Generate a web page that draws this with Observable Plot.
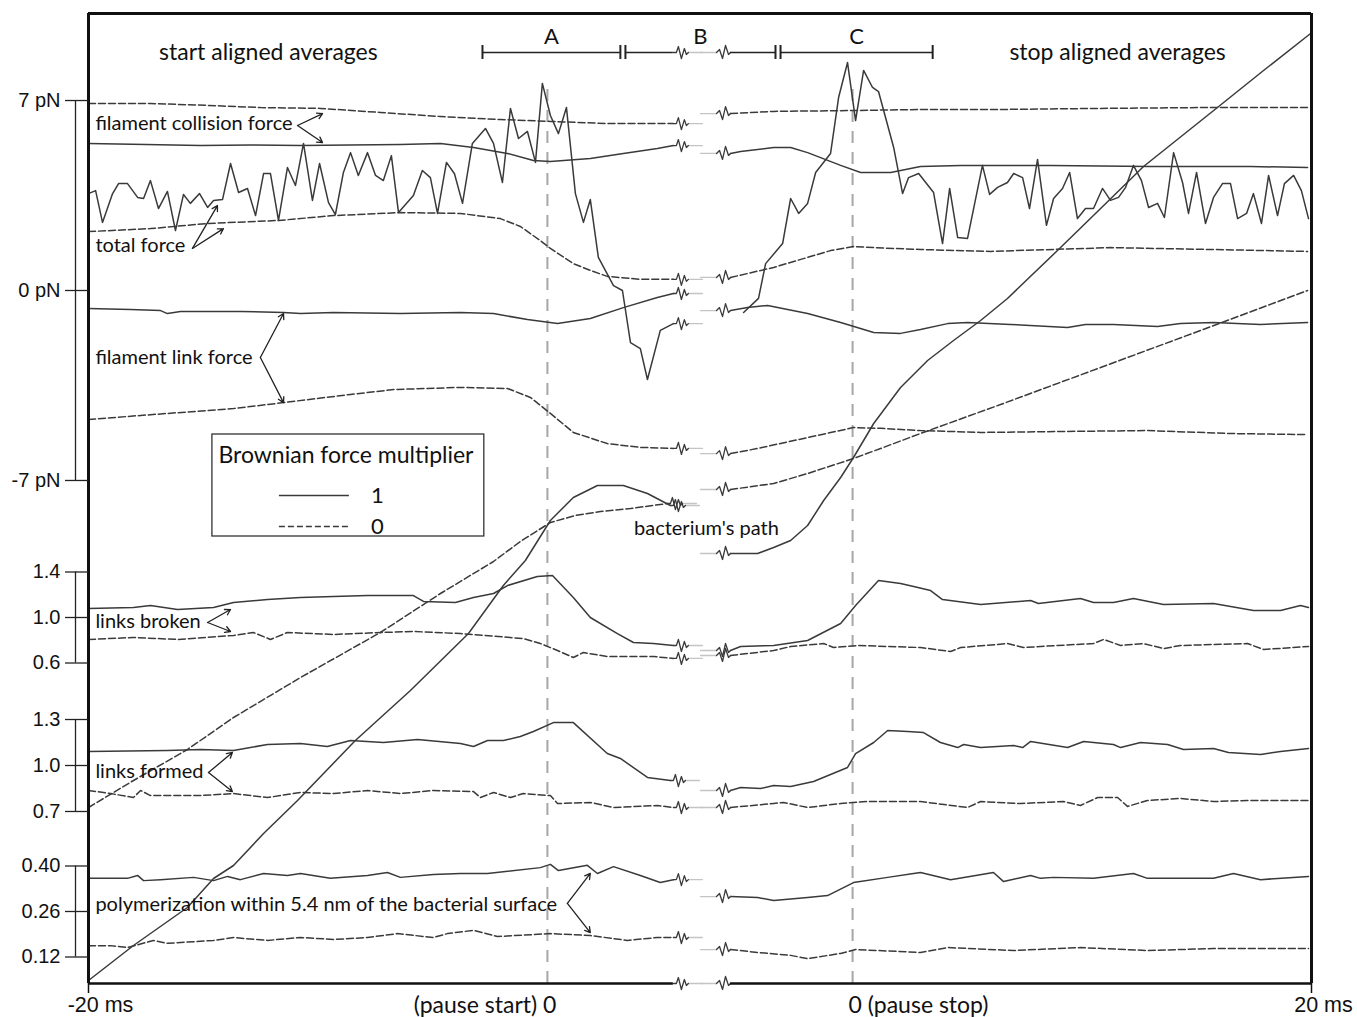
<!DOCTYPE html>
<html><head><meta charset="utf-8">
<script src="https://cdn.jsdelivr.net/npm/d3@7"></script>
<script src="https://cdn.jsdelivr.net/npm/@observablehq/plot@0.6"></script>
<style>
html,body{margin:0;padding:0;background:#fff;}
#chart svg{display:block;}
</style></head>
<body><div id="chart"></div>
<script>
// ---------------- DATA (time in ms, values in the panel's own units) ----------------
// filament collision force (pN)
const collision1Start = [[-20,5.42],[-17.5,5.38],[-15.12,5.34],[-12.9,5.36],[-10.76,5.34],[-8.6,5.36],[-6.41,5.38],[-4.66,5.42],[-3.22,5.27],[-1.74,5.05],[-0.61,4.79],[0.13,4.75],[1.87,4.86],[3.31,5.05],[4.79,5.23],[5.49,5.34]];
const collision1Stop  = [[-5.32,5.05],[-4.88,5.12],[-3.44,5.27],[-2.70,5.27],[-1.96,5.08],[-0.52,4.61],[0.35,4.35],[1.66,4.35],[2.96,4.57],[4.71,4.61],[8.63,4.61],[12.98,4.57],[17.34,4.57],[19.83,4.53]];
const collision0Start = [[-20,6.89],[-17.3,6.89],[-14.81,6.82],[-12.5,6.74],[-9.89,6.71],[-7.28,6.56],[-4.66,6.41],[-2.05,6.30],[0.13,6.23],[2.75,6.15],[5.49,6.15]];
const collision0Stop  = [[-5.32,6.52],[-3.44,6.60],[-0.09,6.63],[2.96,6.67],[6.45,6.67],[10.81,6.71],[15.16,6.74],[19.83,6.74]];
// total force (pN)
const total1Start = [[-20,3.57],[-19.69,3.68],[-19.39,2.51],[-18.95,3.57],[-18.69,3.94],[-18.30,3.94],[-17.86,3.43],[-17.60,3.39],[-17.30,4.05],[-16.95,3.02],[-16.56,3.65],[-16.21,2.21],[-15.86,3.54],[-15.56,3.21],[-15.16,3.57],[-14.81,3.06],[-14.55,3.32],[-14.16,3.35],[-13.81,4.68],[-13.46,3.61],[-13.07,3.76],[-12.72,2.76],[-12.37,4.31],[-12.07,4.31],[-11.72,2.58],[-11.33,4.53],[-10.98,3.87],[-10.63,5.42],[-10.24,3.32],[-9.93,4.68],[-9.54,3.24],[-9.24,2.80],[-8.89,4.35],[-8.58,5.08],[-8.24,4.24],[-7.84,5.08],[-7.49,4.24],[-7.15,4.05],[-6.80,4.97],[-6.49,2.87],[-5.84,3.50],[-5.45,4.42],[-5.10,4.16],[-4.79,2.84],[-4.40,4.72],[-4.05,4.30],[-3.70,3.21],[-3.27,5.42],[-2.70,5.97],[-2.35,5.42],[-1.96,3.98],[-1.61,6.71],[-1.26,5.60],[-0.87,5.86],[-0.52,4.72],[-0.22,7.63],[0.13,6.45],[0.48,5.78],[0.83,6.74],[1.22,3.57],[1.57,2.51],[1.87,3.35],[2.22,1.22],[2.88,0.18],[3.27,0.00],[3.62,-1.92],[4.05,-2.14],[4.36,-3.28],[4.92,-1.47],[5.49,-1.22]];
const total1Stop = [[-4.75,-0.81],[-4.10,-0.29],[-3.79,0.99],[-3.05,1.73],[-2.70,3.39],[-2.35,2.84],[-1.96,3.21],[-1.61,4.35],[-0.96,5.05],[-0.61,7.11],[-0.22,8.40],[0.13,6.26],[0.48,8.11],[0.87,7.48],[1.13,7.33],[1.79,5.27],[2.18,3.57],[2.44,4.16],[2.88,4.31],[3.53,3.61],[3.92,1.73],[4.23,3.76],[4.58,1.95],[5.01,1.92],[5.66,4.61],[5.97,3.54],[6.32,3.80],[6.75,3.98],[7.02,4.31],[7.41,4.16],[7.71,3.02],[8.06,4.83],[8.45,2.40],[8.76,3.39],[9.15,3.76],[9.46,4.35],[9.80,2.65],[10.15,3.02],[10.50,3.02],[10.89,3.76],[11.24,3.32],[11.59,3.43],[11.90,3.80],[12.24,4.61],[12.59,4.05],[12.90,3.06],[13.29,3.21],[13.59,2.69],[13.99,5.08],[14.38,3.98],[14.64,2.84],[14.99,4.35],[15.38,2.47],[15.73,3.43],[16.12,3.94],[16.47,3.94],[16.78,2.65],[17.17,2.84],[17.47,3.57],[17.82,2.47],[18.13,4.24],[18.52,2.76],[18.82,3.94],[19.22,4.24],[19.56,3.68],[19.87,2.65]];
const total0Start = [[-20,2.17],[-17.30,2.28],[-14.81,2.47],[-11.72,2.58],[-9.32,2.76],[-6.41,2.87],[-3.79,2.84],[-2.05,2.65],[-1.18,2.36],[-0.31,1.84],[0.13,1.55],[1.13,0.99],[1.87,0.74],[2.61,0.52],[4.05,0.41],[5.49,0.41]];
const total0Stop  = [[-5.32,0.48],[-3.44,0.85],[-1.96,1.22],[-0.96,1.47],[0.04,1.62],[0.92,1.58],[2.96,1.51],[6.01,1.44],[11.24,1.58],[15.73,1.51],[19.83,1.44]];
// filament link force (pN)
const link1Start = [[-20,-0.66],[-18.17,-0.70],[-16.86,-0.74],[-16.56,-0.85],[-15.99,-0.77],[-13.38,-0.77],[-11.50,-0.81],[-10.76,-0.85],[-9.32,-0.81],[-6.41,-0.85],[-3.79,-0.81],[-2.35,-0.85],[-0.87,-1.07],[0.44,-1.22],[1.87,-1.03],[3.31,-0.63],[4.79,-0.26],[5.49,-0.11]];
const link1Stop  = [[-5.32,-0.74],[-4.58,-0.63],[-3.70,-0.55],[-1.96,-0.85],[-0.52,-1.18],[0.92,-1.55],[2.09,-1.58],[2.96,-1.44],[4.14,-1.22],[5.01,-1.18],[6.88,-1.25],[9.37,-1.36],[10.15,-1.25],[11.37,-1.25],[13.29,-1.33],[14.29,-1.22],[15.73,-1.18],[17.78,-1.25],[19.83,-1.18]];
const link0Start = [[-20,-4.75],[-16.56,-4.53],[-13.68,-4.35],[-11.50,-4.13],[-8.58,-3.83],[-6.71,-3.65],[-3.79,-3.57],[-1.74,-3.61],[-0.74,-3.94],[0.13,-4.53],[1.13,-5.23],[2.61,-5.64],[4.05,-5.78],[5.49,-5.82]];
const link0Stop  = [[-5.32,-6.01],[-4.14,-5.82],[-1.96,-5.42],[0.04,-5.05],[1.22,-5.08],[2.96,-5.16],[5.58,-5.23],[12.85,-5.16],[16.47,-5.27],[19.83,-5.31]];
// bacterium's path (relative displacement, arbitrary units)
const path1Start = [[-20,0.3],[-18.04,3.8],[-15.69,7.6],[-14.55,10.5],[-13.68,11.8],[-12.37,15.0],[-10.89,18.3],[-8.37,24.3],[-5.97,29.3],[-3.44,35.0],[-1.92,39.8],[-0.96,42.3],[0.13,46.3],[1.13,48.6],[2.18,49.8],[3.31,49.8],[4.36,49.0],[5.36,47.8]];
const path1Stop  = [[-5.32,43.0],[-4.14,43.0],[-3.44,43.6],[-2.70,44.3],[-1.96,45.8],[-1.26,48.3],[-0.52,50.6],[0.04,52.6],[0.92,56.0],[2.09,59.6],[3.27,62.3],[4.40,64.3],[5.58,66.3],[6.75,68.5],[8.93,73.3],[10.81,77.5],[12.68,81.7],[15.90,87.6],[17.91,91.3],[19.96,95.0]];
const path0Start = [[-20,17.6],[-18.04,20.3],[-15.69,23.4],[-13.68,26.6],[-10.76,30.6],[-7.28,35.1],[-4.66,39.0],[-2.35,42.2],[-1.18,44.2],[0.13,46.1],[1.22,46.8],[2.31,47.2],[3.62,47.5],[5.23,48.0]];
const path0Stop  = [[-5.32,49.4],[-3.44,50.0],[-1.96,51.0],[0.04,52.5],[1.22,53.5],[2.96,55.0],[6.45,57.9],[10.81,61.6],[15.16,65.3],[19.83,69.3]];
// links broken (relative rate)
const broken1Start = [[-20,1.079],[-18.04,1.088],[-17.30,1.105],[-16.12,1.070],[-14.55,1.088],[-13.68,1.132],[-12.20,1.158],[-10.76,1.176],[-9.32,1.185],[-7.84,1.193],[-5.84,1.193],[-5.40,1.141],[-4.01,1.132],[-3.22,1.176],[-2.35,1.211],[-1.74,1.281],[-0.44,1.360],[0.22,1.369],[1.13,1.176],[1.87,1.000],[3.05,0.859],[3.75,0.780],[4.62,0.771],[5.49,0.754]];
const broken1Stop  = [[-5.32,0.710],[-4.88,0.745],[-3.44,0.754],[-1.96,0.798],[-0.52,0.947],[0.13,1.105],[1.13,1.325],[2.09,1.299],[2.66,1.273],[3.40,1.237],[3.92,1.158],[5.58,1.114],[7.76,1.149],[8.10,1.123],[9.93,1.167],[10.50,1.132],[11.37,1.132],[12.24,1.167],[13.55,1.114],[15.73,1.123],[17.47,1.062],[18.65,1.062],[19.52,1.105],[19.87,1.088]];
const broken0Start = [[-20,0.807],[-18.04,0.824],[-16.12,0.807],[-13.68,0.842],[-12.81,0.868],[-12.07,0.807],[-11.33,0.868],[-9.32,0.851],[-7.28,0.868],[-5.84,0.877],[-3.79,0.859],[-1.05,0.815],[-0.31,0.771],[0.44,0.710],[1.13,0.648],[1.57,0.692],[2.61,0.657],[4.62,0.657],[5.49,0.640]];
const broken0Stop  = [[-5.32,0.666],[-3.44,0.710],[-2.70,0.745],[-1.26,0.771],[-0.83,0.736],[0.22,0.754],[2.96,0.736],[4.27,0.701],[4.71,0.736],[6.75,0.771],[7.45,0.736],[8.93,0.754],[10.50,0.771],[10.94,0.807],[11.68,0.754],[12.68,0.771],[13.55,0.727],[14.29,0.754],[17.21,0.771],[17.91,0.719],[19.87,0.745]];
// links formed (relative rate)
const formed1Start = [[-20,1.091],[-16.56,1.098],[-15.12,1.104],[-13.68,1.098],[-12.20,1.137],[-10.76,1.144],[-9.59,1.124],[-8.58,1.163],[-7.15,1.150],[-5.66,1.170],[-3.79,1.144],[-3.22,1.124],[-2.61,1.163],[-1.92,1.163],[-1.18,1.189],[-0.61,1.222],[0.26,1.280],[1.13,1.280],[2.61,1.078],[3.18,1.046],[4.36,0.922],[5.36,0.902]];
const formed1Stop  = [[-5.32,0.837],[-4.88,0.856],[-4.01,0.850],[-3.44,0.870],[-2.70,0.863],[-1.70,0.896],[-0.22,0.987],[0.13,1.078],[0.92,1.150],[1.53,1.228],[2.40,1.222],[3.09,1.215],[3.83,1.150],[4.58,1.117],[4.84,1.137],[5.58,1.117],[7.02,1.130],[7.41,1.117],[7.76,1.157],[9.37,1.117],[10.07,1.157],[11.37,1.137],[11.68,1.117],[12.55,1.150],[13.73,1.137],[14.42,1.104],[15.73,1.111],[16.38,1.085],[17.78,1.072],[18.65,1.091],[19.87,1.111]];
const formed0Start = [[-20,0.837],[-19.04,0.817],[-18.04,0.791],[-17.73,0.837],[-17.30,0.804],[-15.12,0.804],[-13.68,0.817],[-12.20,0.791],[-10.76,0.824],[-9.32,0.817],[-7.84,0.837],[-6.41,0.817],[-4.97,0.837],[-3.22,0.830],[-2.92,0.791],[-2.35,0.824],[-1.61,0.791],[-1.05,0.817],[0.13,0.804],[0.44,0.752],[1.87,0.759],[2.88,0.726],[4.79,0.739],[5.49,0.726]];
const formed0Stop  = [[-5.32,0.726],[-3.44,0.752],[-3.01,0.759],[-1.96,0.726],[-0.52,0.752],[0.65,0.765],[2.96,0.765],[5.01,0.726],[5.58,0.765],[7.32,0.752],[9.19,0.765],[9.93,0.739],[10.68,0.791],[11.55,0.791],[11.98,0.733],[12.85,0.772],[14.29,0.785],[15.73,0.765],[17.21,0.772],[19.87,0.772]];
// polymerization within 5.4 nm of the bacterial surface
const poly1Start = [[-20,0.362],[-18.30,0.362],[-17.86,0.371],[-17.60,0.355],[-16.86,0.358],[-15.42,0.365],[-14.55,0.355],[-13.94,0.368],[-13.38,0.358],[-12.37,0.377],[-11.33,0.371],[-10.76,0.377],[-9.46,0.362],[-7.84,0.371],[-6.97,0.380],[-6.41,0.365],[-4.97,0.374],[-3.79,0.377],[-2.61,0.377],[-0.31,0.395],[0.13,0.405],[0.48,0.386],[1.74,0.402],[2.18,0.377],[2.88,0.398],[4.05,0.371],[4.92,0.349],[5.49,0.358]];
const poly1Stop  = [[-5.32,0.306],[-4.14,0.303],[-3.44,0.294],[-1.96,0.303],[-1.09,0.309],[0.04,0.349],[1.53,0.365],[2.66,0.377],[2.96,0.380],[4.27,0.358],[6.14,0.380],[6.58,0.352],[7.76,0.371],[8.19,0.362],[8.76,0.365],[10.50,0.362],[12.24,0.377],[12.85,0.362],[15.73,0.362],[16.60,0.377],[17.78,0.358],[19.87,0.368]];
const poly0Start = [[-20,0.155],[-19.04,0.155],[-18.30,0.149],[-17.17,0.171],[-16.56,0.162],[-14.55,0.171],[-13.68,0.180],[-12.20,0.171],[-10.76,0.180],[-9.32,0.174],[-7.84,0.180],[-6.54,0.192],[-4.97,0.180],[-4.36,0.192],[-3.22,0.202],[-2.18,0.183],[0.13,0.192],[1.87,0.186],[3.49,0.171],[4.79,0.180],[5.49,0.180]];
const poly0Stop  = [[-5.32,0.143],[-4.14,0.134],[-2.70,0.125],[-1.96,0.115],[-0.52,0.131],[0.13,0.143],[2.96,0.134],[4.14,0.149],[7.02,0.140],[9.93,0.149],[12.85,0.140],[15.73,0.146],[19.87,0.146]];

// axis ticks and labels
const forceTicks  = [7, 0, -7];      const forceLabels  = ["7 pN", "0 pN", "-7 pN"];
const brokenTicks = [1.4, 1.0, 0.6]; const brokenLabels = ["1.4", "1.0", "0.6"];
const formedTicks = [1.3, 1.0, 0.7]; const formedLabels = ["1.3", "1.0", "0.7"];
const polyTicks   = [0.40, 0.26, 0.12]; const polyLabels = ["0.40", "0.26", "0.12"];
const edgeTimeLabels = [{align:"start", t:-20, label:"-20 ms"}, {align:"stop", t:20, label:"20 ms"}];
const pauseStartLabel = {align:"start", t:0, label:"(pause start) 0"};
const pauseStopLabel  = {align:"stop", t:0, label:"0 (pause stop)"};
const phases = [{label:"A", from:["start",-2.83], to:["start",3.18]}, {label:"B", from:["start",3.40], to:["stop",-3.36]}, {label:"C", from:["stop",-3.14], to:["stop",3.49]}];
const multipliers = ["1", "0"];

// ---------------- LAYOUT ----------------
const W = 1357, H = 1017, ML = 88, MR = 46, MT = 13, MB = 34;
const STOP_OFFSET = 13.3;                 // shared-axis offset of the stop-aligned half
const XD = [-20, 20 + STOP_OFFSET];
const YD = [0, H - MT - MB];
const pxPerMs = (W - ML - MR) / (XD[1] - XD[0]);
const BREAK_END = 5.49, BREAK_BEGIN = -5.32; // where the two halves are cut
const X = (align, t) => align === "stop" ? t + STOP_OFFSET : t;
const px = p => p / pxPerMs;              // pixel length -> ms on the shared axis
const panels = {
  force:  {ref: 0,    at: 693, per: 27.14},
  broken: {ref: 1.0,  at: 366, per: 113.75},
  formed: {ref: 1.0,  at: 218, per: 153.3},
  poly:   {ref: 0.26, at: 72,  per: 325},
  path:   {ref: 0,    at: 0,   per: 10}
};
const Y = (panel, v) => panels[panel].at + (v - panels[panel].ref) * panels[panel].per;

const series = [
  {id:"collision", panel:"force", mult:"1", start:collision1Start, stop:collision1Stop},
  {id:"collision", panel:"force", mult:"0", start:collision0Start, stop:collision0Stop},
  {id:"total", panel:"force", mult:"1", start:total1Start, stop:total1Stop, noLeadIn:true},
  {id:"total", panel:"force", mult:"0", start:total0Start, stop:total0Stop},
  {id:"link", panel:"force", mult:"1", start:link1Start, stop:link1Stop},
  {id:"link", panel:"force", mult:"0", start:link0Start, stop:link0Stop},
  {id:"path", panel:"path", mult:"1", start:path1Start, stop:path1Stop},
  {id:"path", panel:"path", mult:"0", start:path0Start, stop:path0Stop},
  {id:"broken", panel:"broken", mult:"1", start:broken1Start, stop:broken1Stop},
  {id:"broken", panel:"broken", mult:"0", start:broken0Start, stop:broken0Stop},
  {id:"formed", panel:"formed", mult:"1", start:formed1Start, stop:formed1Stop},
  {id:"formed", panel:"formed", mult:"0", start:formed0Start, stop:formed0Stop},
  {id:"poly", panel:"poly", mult:"1", start:poly1Start, stop:poly1Stop},
  {id:"poly", panel:"poly", mult:"0", start:poly0Start, stop:poly0Stop}
];

// break glyphs (pixel offsets, y down)
const zigOut = [[0,0],[3,0],[5,-6],[8,6],[11,-4],[13,2],[15,0]];
const fadeOut = [[15,0],[29,0]];
const zigIn = [[-14,0],[-11,-3],[-8,6],[-5,-7],[-2,2],[0,0]];
const fadeIn = [[-30,0],[-14,0]];

const lineRows = [], zigRows = [], fadeRows = [];
const glyph = (out, key, x0, y0, g) => g.forEach(([dx, dy]) => out.push({key, x: x0 + px(dx), y: y0 - dy}));
series.forEach(s => {
  const k = s.id + s.mult;
  s.start.forEach(([t, v]) => lineRows.push({key: k + "a", mult: s.mult, x: X("start", t), y: Y(s.panel, v)}));
  s.stop.forEach(([t, v]) => lineRows.push({key: k + "b", mult: s.mult, x: X("stop", t), y: Y(s.panel, v)}));
  const [te, ve] = s.start[s.start.length - 1];
  glyph(zigRows, k + "zo", X("start", te), Y(s.panel, ve), zigOut);
  glyph(fadeRows, k + "fo", X("start", te), Y(s.panel, ve), fadeOut);
  if (!s.noLeadIn) {
    const [tb, vb] = s.stop[0];
    glyph(zigRows, k + "zi", X("stop", tb), Y(s.panel, vb), zigIn);
    glyph(fadeRows, k + "fi", X("stop", tb), Y(s.panel, vb), fadeIn);
  }
});

// axis / frame helpers
const FRAME_TOP = YD[1];
const bottomSegs = [{x1: XD[0], x2: X("start", BREAK_END)}, {x1: X("stop", BREAK_BEGIN), x2: XD[1]}];
glyph(zigRows, "axzo", X("start", BREAK_END), 0, zigOut);
glyph(fadeRows, "axfo", X("start", BREAK_END), 0, fadeOut);
glyph(zigRows, "axzi", X("stop", BREAK_BEGIN), 0, zigIn);
glyph(fadeRows, "axfi", X("stop", BREAK_BEGIN), 0, fadeIn);

const BAR_Y = FRAME_TOP - 39;             // phase bar height
const phaseSegs = [], phaseEnds = [], phaseLabels = [];
phases.forEach(p => {
  const a = X(...p.from), b = X(...p.to);
  phaseEnds.push({x: a}, {x: b});
  phaseLabels.push({x: (a + b) / 2, label: p.label});
  if (p.label === "B") {
    phaseSegs.push({x1: a, x2: X("start", BREAK_END)}, {x1: X("stop", BREAK_BEGIN), x2: b});
    glyph(zigRows, "bzo", X("start", BREAK_END), BAR_Y, zigOut);
    glyph(fadeRows, "bfo", X("start", BREAK_END), BAR_Y, fadeOut);
    glyph(zigRows, "bzi", X("stop", BREAK_BEGIN), BAR_Y, zigIn);
    glyph(fadeRows, "bfi", X("stop", BREAK_BEGIN), BAR_Y, fadeIn);
  } else phaseSegs.push({x1: a, x2: b});
});

const axisGroups = [
  {panel:"force", ticks:forceTicks, labels:forceLabels},
  {panel:"broken", ticks:brokenTicks, labels:brokenLabels},
  {panel:"formed", ticks:formedTicks, labels:formedLabels},
  {panel:"poly", ticks:polyTicks, labels:polyLabels}
];
const tickRows = axisGroups.flatMap(g => g.ticks.map((t, i) => ({y: Y(g.panel, t), label: g.labels[i]})));
const axisSpans = axisGroups.map(g => ({y1: Y(g.panel, g.ticks[0]), y2: Y(g.panel, g.ticks[g.ticks.length - 1])}));

// annotations: text and arrows (panel units)
const annText = [
  {t:-19.7, panel:"force", v:6.15, text:"filament collision force"},
  {t:-19.7, panel:"force", v:1.66, text:"total force"},
  {t:-19.7, panel:"force", v:-2.47, text:"filament link force"},
  {t:-19.7, panel:"broken", v:0.965, text:"links broken"},
  {t:-19.7, panel:"formed", v:0.961, text:"links formed"},
  {t:-19.7, panel:"poly", v:0.282, text:"polymerization within 5.4 nm of the bacterial surface"}
];
const annArrows = [
  {panel:"force", t0:-10.89, v0:6.08, t1:-9.80, v1:6.52}, {panel:"force", t0:-10.89, v0:6.08, t1:-9.80, v1:5.45},
  {panel:"force", t0:-15.47, v0:1.55, t1:-14.38, v1:3.13}, {panel:"force", t0:-15.47, v0:1.55, t1:-14.12, v1:2.28},
  {panel:"force", t0:-12.51, v0:-2.47, t1:-11.50, v1:-0.85}, {panel:"force", t0:-12.51, v0:-2.47, t1:-11.50, v1:-4.13},
  {panel:"broken", t0:-14.81, v0:0.956, t1:-13.81, v1:1.070}, {panel:"broken", t0:-14.81, v0:0.956, t1:-13.81, v1:0.877},
  {panel:"formed", t0:-14.77, v0:0.954, t1:-13.73, v1:1.085}, {panel:"formed", t0:-14.77, v0:0.954, t1:-13.73, v1:0.830},
  {panel:"poly", t0:0.87, v0:0.285, t1:1.87, v1:0.377}, {panel:"poly", t0:0.87, v0:0.285, t1:1.87, v1:0.195}
];

// legend box (placed in chart coordinates)
const LEG = {x1:-14.6, x2:-2.75, y1:447, y2:549};
const legRowY = i => LEG.y2 - 61 - 31 * i;

const INK = "#3a3a3a", FADE = "#c4c4c4";
const SANS = "Lato, 'Open Sans', sans-serif";
const ARIAL = "'Liberation Sans', Arial, sans-serif";
const AX_LINE = XD[0] - px(13), TICK_X1 = XD[0] - px(23);

const chart = Plot.plot({
  width: W, height: H,
  marginLeft: ML, marginRight: MR, marginTop: MT, marginBottom: MB,
  x: {domain: XD, axis: null},
  y: {domain: YD, axis: null},
  style: {background: "#fff"},
  marks: [
    // pause reference lines
    Plot.ruleX([X("start", 0), X("stop", 0)], {y1: 0, y2: 903, stroke: "#a6a6a6", strokeWidth: 2, strokeDasharray: "12,9"}),
    // data
    Plot.line(lineRows.filter(d => d.mult === "1"), {x: "x", y: "y", z: "key", stroke: INK, strokeWidth: 1.5}),
    Plot.line(lineRows.filter(d => d.mult === "0"), {x: "x", y: "y", z: "key", stroke: INK, strokeWidth: 1.5, strokeDasharray: "7,3"}),
    Plot.line(fadeRows, {x: "x", y: "y", z: "key", stroke: FADE, strokeWidth: 1.3}),
    Plot.line(zigRows, {x: "x", y: "y", z: "key", stroke: INK, strokeWidth: 1.3}),
    // frame
    Plot.ruleY([FRAME_TOP], {x1: XD[0], x2: XD[1], stroke: "#111", strokeWidth: 3}),
    Plot.ruleX([XD[0], XD[1]], {y1: 0, y2: FRAME_TOP, stroke: "#111", strokeWidth: 3}),
    Plot.ruleY(bottomSegs, {y: 0, x1: "x1", x2: "x2", stroke: "#111", strokeWidth: 2.5}),
    Plot.ruleX([XD[0], XD[1]], {y1: 0, y2: -10, stroke: "#111", strokeWidth: 1.5}),
    // time labels
    Plot.text(edgeTimeLabels, {x: d => X(d.align, d.t), y: 0, dy: 22, dx: 12, text: "label", fontSize: 21.5, fontFamily: ARIAL, fill: "#111"}),
    Plot.text([pauseStartLabel], {x: d => X(d.align, d.t), y: 0, dy: 22, dx: 9, text: "label", textAnchor: "end", fontSize: 23, fontFamily: SANS, fill: "#111"}),
    Plot.text([pauseStopLabel], {x: d => X(d.align, d.t), y: 0, dy: 22, dx: -4, text: "label", textAnchor: "start", fontSize: 23, fontFamily: SANS, fill: "#111"}),
    // left axes
    Plot.ruleX(axisSpans, {x: AX_LINE, y1: "y1", y2: "y2", stroke: "#222", strokeWidth: 1.3}),
    Plot.ruleY(tickRows, {y: "y", x1: TICK_X1, x2: XD[0], stroke: "#222", strokeWidth: 1.3}),
    Plot.text(tickRows, {x: XD[0], y: "y", dx: -28, text: "label", textAnchor: "end", fontSize: 20, fontFamily: ARIAL, fill: "#111"}),
    // titles and phases
    Plot.text([{x: X("start", -12.16), label: "start aligned averages"}, {x: X("stop", 11.55), label: "stop aligned averages"}],
      {x: "x", y: FRAME_TOP - 39, text: "label", fontSize: 23, fontFamily: SANS, fill: "#111"}),
    Plot.ruleY(phaseSegs, {y: BAR_Y, x1: "x1", x2: "x2", stroke: "#222", strokeWidth: 1.5}),
    Plot.ruleX(phaseEnds, {x: "x", y1: BAR_Y - 7, y2: BAR_Y + 7, stroke: "#222", strokeWidth: 2}),
    Plot.text(phaseLabels, {x: "x", y: BAR_Y + 16, text: "label", fontSize: 22, fontFamily: SANS, fill: "#111"}),
    // annotations
    Plot.text(annText, {x: d => X("start", d.t), y: d => Y(d.panel, d.v), text: "text", textAnchor: "start", fontSize: 20, fontFamily: SANS, fill: "#111"}),
    Plot.arrow(annArrows, {x1: d => X("start", d.t0), y1: d => Y(d.panel, d.v0), x2: d => X("start", d.t1), y2: d => Y(d.panel, d.v1), stroke: "#222", strokeWidth: 1.3, headLength: 7}),
    Plot.text([{t: 6.93, v: 45.5, label: "bacterium's path"}], {x: d => X("start", d.t), y: d => Y("path", d.v), text: "label", fontSize: 20, fontFamily: SANS, fill: "#111"}),
    // legend
    Plot.rect([LEG], {x1: "x1", x2: "x2", y1: "y1", y2: "y2", fill: "#fff", stroke: "#333", strokeWidth: 1.3}),
    Plot.text(["Brownian force multiplier"], {x: LEG.x1, y: LEG.y2 - 21, dx: 6, text: d => d, textAnchor: "start", fontSize: 23, fontFamily: SANS, fill: "#111"}),
    Plot.ruleY([multipliers[0]], {y: legRowY(0), x1: LEG.x1 + px(67), x2: LEG.x1 + px(137), stroke: INK, strokeWidth: 1.4}),
    Plot.ruleY([multipliers[1]], {y: legRowY(1), x1: LEG.x1 + px(67), x2: LEG.x1 + px(137), stroke: INK, strokeWidth: 1.4, strokeDasharray: "6,3"}),
    Plot.text(multipliers, {x: LEG.x1 + px(165), y: (d, i) => legRowY(i), text: d => d, fontSize: 22, fontFamily: SANS, fill: "#111"})
  ]
});
document.getElementById("chart").appendChild(chart);
</script></body></html>
